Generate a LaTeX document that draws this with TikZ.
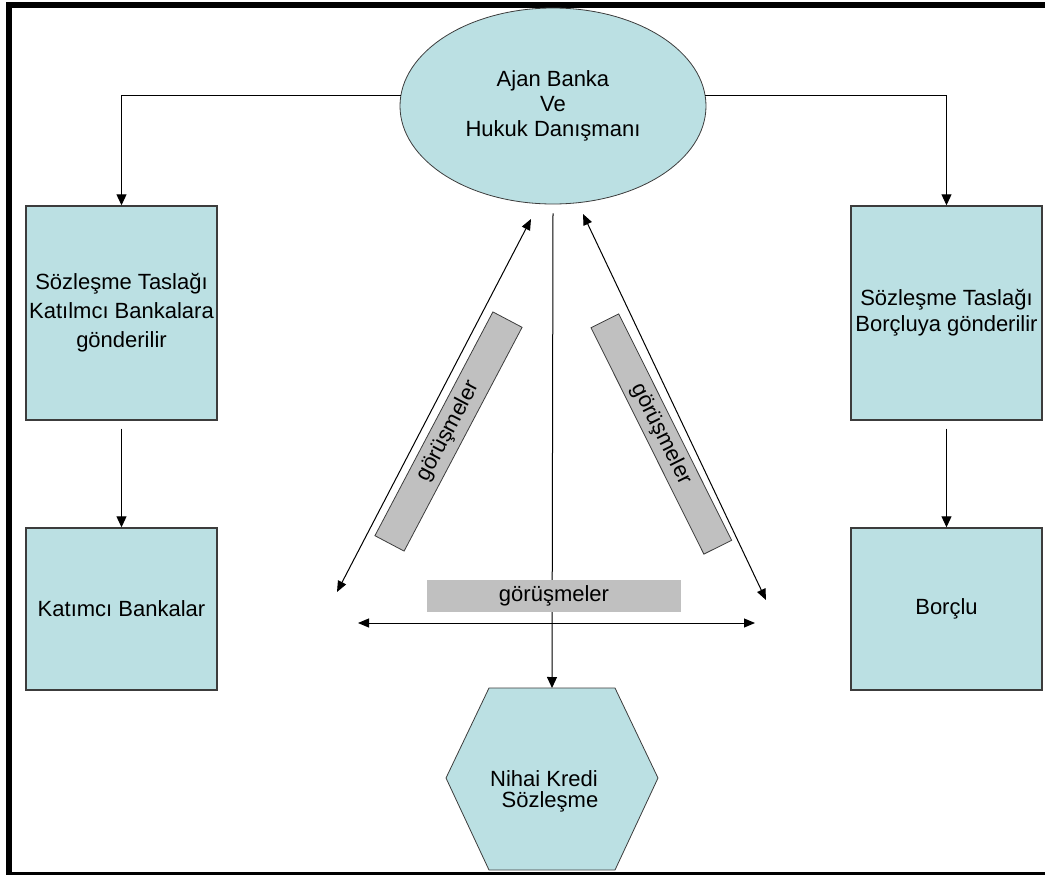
\documentclass[tikz,border=0pt]{standalone}
\usepackage{fontspec}
\setmainfont{Liberation Sans}
\usetikzlibrary{arrows.meta,shapes.geometric}
\definecolor{boxblue}{RGB}{187,224,227}
\definecolor{labelgray}{RGB}{192,192,192}
\definecolor{edge}{RGB}{60,60,60}
\begin{document}
\begin{tikzpicture}[x=1pt,y=-1pt,
  every node/.style={text=black, align=center, font=\fontsize{22}{27}\selectfont},
  stepbox/.style={draw=edge, line width=1.4pt, fill=boxblue, minimum width=191, inner sep=0},
  conn/.style={line width=1pt, -{Triangle[length=11pt,width=10pt]}},
  dbl/.style={line width=1pt, {Triangle[length=11pt,width=9pt]}-{Triangle[length=11pt,width=9pt]}},
  tag/.style={fill=labelgray, minimum width=253, minimum height=32, inner sep=0}]
\useasboundingbox (0,0) rectangle (1045,875);
% frame
\fill[black] (6,2) rectangle (1045,8);
\fill[black] (6,2) rectangle (12,875);
\fill[black] (6,872) rectangle (1045,875);

% nodes
\node[ellipse, draw=edge, line width=0.8pt, fill=boxblue, minimum width=306, minimum height=196, inner sep=0,
      font=\fontsize{22}{25}\selectfont] (ajan) at (553,106) {Ajan Banka\\Ve\\Hukuk Danışmanı};
\node[stepbox, minimum height=214, font=\fontsize{22}{29}\selectfont] (draftL) at (121.5,313) {Sözleşme Taslağı\\Katılmcı Bankalara\\gönderilir};
\node[stepbox, minimum height=214, font=\fontsize{22}{26}\selectfont] (draftR) at (946.5,313) {Sözleşme Taslağı\\Borçluya gönderilir};
\node[stepbox, minimum height=162] (banks) at (121.5,609) {Katımcı Bankalar};
\node[stepbox, minimum height=162] (borrower) at (946.5,609) {Borçlu};

% hexagon
\filldraw[fill=boxblue, draw=edge, line width=0.8pt]
  (489,688) -- (615,688) -- (658,778) -- (615,870) -- (489,870) -- (446,778) -- cycle;
\coordinate (hextop) at (552,688);
\node[font=\fontsize{22}{21}\selectfont] (final) at (544,791) {Nihai Kredi\\\hspace*{12pt}Sözleşme};

% connectors
\draw[conn] (ajan.176) -| (draftL.north);
\draw[conn] (ajan.4) -| (draftR.north);
\draw[conn] ([yshift=-8pt]draftL.south) -- (banks.north);
\draw[conn] ([yshift=-8pt]draftR.south) -- (borrower.north);
\draw[conn] ([yshift=-9pt]ajan.south) -- (hextop);

% negotiation arrows
\coordinate (lt) at (531,219);
\coordinate (lb) at (337,592);
\coordinate (rt) at (583,214);
\coordinate (rb) at (766,600);
\coordinate (hl) at (358,623);
\coordinate (hr) at (755,623);
\draw[dbl] (lt) -- (lb);
\draw[dbl] (rt) -- (rb);
\draw[dbl] (hl) -- (hr);

% labels
\node[tag, draw=edge, line width=0.8pt, minimum height=33, rotate=62.2] (negL) at (448.5,431.5) {görüşmeler};
\node[tag, draw=edge, line width=0.8pt, minimum height=31, rotate=-63.5] (negR) at (661.3,434) {görüşmeler};
\node[tag, minimum width=254] (negB) at (554,596) {görüşmeler};
\end{tikzpicture}
\end{document}
